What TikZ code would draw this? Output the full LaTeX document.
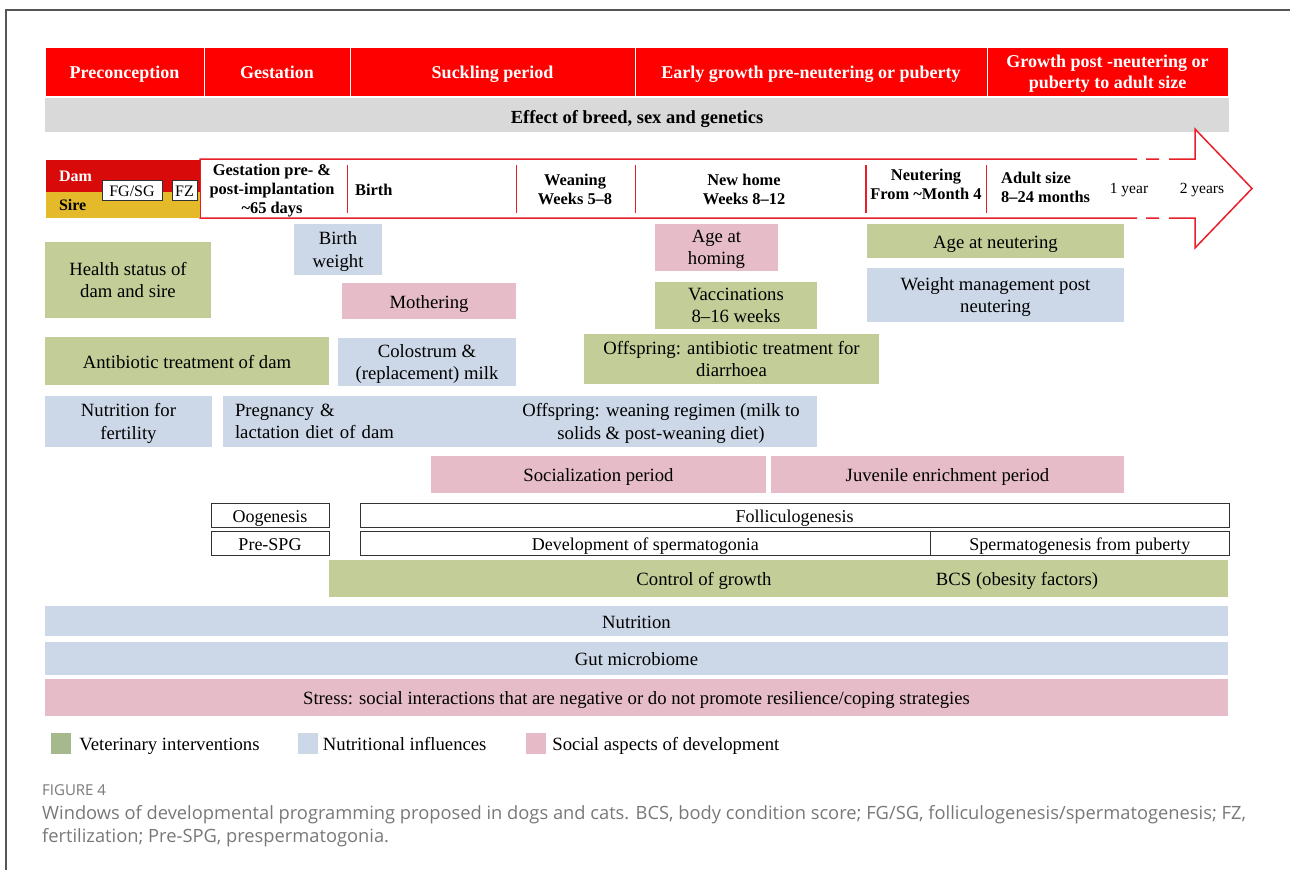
\documentclass[tikz,border=0pt]{standalone}
\usepackage{fontspec}
\setmainfont{Liberation Serif}
\newfontfamily\capfont{Open Sans}
\usepackage{xcolor}
\usepackage{tikz}
\usetikzlibrary{positioning}
\definecolor{hdred}{RGB}{255,0,0}
\definecolor{damred}{RGB}{217,10,10}
\definecolor{siregold}{RGB}{228,185,42}
\definecolor{bargray}{RGB}{217,217,217}
\definecolor{arrred}{RGB}{232,30,40}
\definecolor{vetgreen}{RGB}{194,205,152}
\definecolor{nutblue}{RGB}{204,216,232}
\definecolor{socpink}{RGB}{229,188,200}
\definecolor{leggreen}{RGB}{165,185,140}
\definecolor{legpink}{RGB}{230,186,198}
\definecolor{boxgray}{RGB}{50,50,50}
\definecolor{capgray}{RGB}{120,120,120}
\definecolor{framegray}{RGB}{85,85,85}
\tikzset{cell/.style={rectangle,inner sep=0pt,align=center,text depth=0pt,font=\fontsize{18.7}{22.4}\selectfont},
	one/.style={text height=16pt,text depth=2pt},
	vet/.style={cell,fill=vetgreen},
	nut/.style={cell,fill=nutblue},
	soc/.style={cell,fill=socpink},
	wbox/.style={cell,one,draw=boxgray,line width=1pt,fill=white,font=\fontsize{18}{21}\selectfont},
	hdbox/.style={rectangle,inner sep=0pt,align=center,fill=hdred,draw=white,line width=0.8pt,
		text=white,font=\bfseries\fontsize{18}{21}\selectfont},
	hd/.style={hdbox,text height=15pt,text depth=1pt},
	tl/.style={inner sep=0pt,align=center,font=\bfseries\fontsize{16.4}{19}\selectfont},
	arr/.style={draw=arrred,line width=1.5pt},
	key/.style={rectangle,inner sep=0pt,minimum width=20pt,minimum height=21pt}}

\begin{document}
\begin{tikzpicture}[x=1pt,y=-1pt]
\useasboundingbox (0,0) rectangle (1290,870);
\draw[framegray,line width=1.5pt] (6,870) -- (6,10) -- (1290,10);
\node[hd,minimum width=159pt,minimum height=49pt] (pre) at (124.5,71.5) {Preconception};
\node[hd,minimum width=146pt,minimum height=49pt] (gest) at (277,71.5) {Gestation};
\node[hd,minimum width=285pt,minimum height=49pt] (suck) at (492.5,71.5) {Suckling period};
\node[hd,minimum width=352pt,minimum height=49pt] (early) at (811,71.5) {Early growth pre-neutering or puberty};
\node[hdbox,minimum width=241pt,minimum height=49pt] (post) at (1107.5,71.5) {};
\node[hdbox,fill=none,draw=none] (posttxt) at (1107.5,74) {Growth post -neutering or\\puberty to adult size};
\node[cell,fill=bargray,minimum width=1184pt,minimum height=34pt,text height=17.5pt,text depth=1pt,
  font=\bfseries\fontsize{18.5}{22}\selectfont] (breed) at (637,115) {Effect of breed, sex and genetics};
\draw[arr] (1137,159) -- (200,159) -- (200,218) -- (1137,218)
  (1146,159) -- (1159,159) (1146,218) -- (1159,218)
  (1169,159) -- (1195,159) -- (1195,129) -- (1252,188.5) -- (1195,248) -- (1195,218) -- (1169,218);
\draw[arr] (347.5,165) -- (347.5,213) (516.5,165) -- (516.5,213) (635.7,165) -- (635.7,213)
  (866,165) -- (866,213) (986.5,165) -- (986.5,213);
\node[rectangle,fill=damred,minimum width=154pt,minimum height=32pt,inner xsep=13pt,inner ysep=0pt,
  text width=128pt,align=left,text=white,font=\bfseries\fontsize{16}{19}\selectfont] (dam) at (123,176) {Dam};
\node[rectangle,fill=siregold,minimum width=154pt,minimum height=26.5pt,inner xsep=13pt,inner ysep=0pt,
  text width=128pt,align=left,font=\bfseries\fontsize{16}{19}\selectfont] (sire) at (123,204.75) {Sire};
\node[wbox,minimum width=60pt,minimum height=20pt,text height=13pt,text depth=1pt,font=\fontsize{16}{19}\selectfont] (fgsg) at (132,190) {FG/SG};
\node[wbox,minimum width=25pt,minimum height=20pt,text height=13pt,text depth=1pt,font=\fontsize{16}{19}\selectfont] (fz) at (184.5,190) {FZ};
\node[tl] (impl) at (272,190.5) {Gestation pre- \&\\post-implantation\\\textasciitilde65 days};
\node[tl,anchor=west] (birth) at (355,190) {Birth};
\node[tl] (wean) at (575,189) {Weaning\\Weeks 5--8};
\node[tl] (home) at (744,189) {New home\\Weeks 8--12};
\node[tl] (neut) at (926,184) {Neutering\\From \textasciitilde Month 4};
\node[tl,anchor=west,align=left] (adult) at (1001,187.5) {Adult size\\8--24 months};
\node[tl,font=\fontsize{15.5}{18}\selectfont] (yr1) at (1129,190) {1 year};
\node[tl,font=\fontsize{15.5}{18}\selectfont] (yr2) at (1202,190) {2 years};
\node[vet,minimum width=166pt,minimum height=76pt] (health) at (128,280) {Health status of\\dam and sire};
\node[nut,minimum width=88pt,minimum height=51pt] (bw) at (338,249.5) {Birth\\weight};
\node[soc,one,minimum width=174pt,minimum height=36pt] (moth) at (429,301) {Mothering};
\node[vet,one,minimum width=284pt,minimum height=48pt] (abdam) at (187,361) {Antibiotic treatment of dam};
\node[nut,minimum width=178pt,minimum height=48pt] (colo) at (427,362) {Colostrum \&\\(replacement) milk};
\node[nut,minimum width=167pt,minimum height=51pt] (fert) at (128.5,421.5) {Nutrition for\\fertility};
\node[nut,minimum width=282pt,minimum height=51pt,text width=258pt,align=left,inner xsep=12pt,
  text depth=22.4pt] (preg) at (364,421.5) {Pregnancy \&\\lactation diet of dam};
\node[nut,minimum width=312pt,minimum height=51pt] (regim) at (661,421.5) {Offspring: weaning regimen (milk to\\solids \& post-weaning diet)};
\node[soc,minimum width=123pt,minimum height=47pt] (ahome) at (716.5,247.5) {Age at\\homing};
\node[vet,minimum width=162pt,minimum height=47pt] (vacc) at (736,305.5) {Vaccinations\\8--16 weeks};
\node[vet,one,minimum width=257pt,minimum height=34pt] (aneut) at (995.5,241) {Age at neutering};
\node[nut,minimum width=257pt,minimum height=54pt] (wman) at (995.5,295) {Weight management post\\neutering};
\node[vet,minimum width=295pt,minimum height=50pt] (aboff) at (731.5,359) {Offspring: antibiotic treatment for\\diarrhoea};
\node[soc,one,minimum width=335pt,minimum height=37pt] (social) at (598.5,474.5) {Socialization period};
\node[soc,one,minimum width=353pt,minimum height=37pt] (juv) at (947.5,474.5) {Juvenile enrichment period};
\node[wbox,minimum width=118pt,minimum height=24pt] (oog) at (270,515) {Oogenesis};
\node[wbox,minimum width=118pt,minimum height=24pt] (pspg) at (270,543) {Pre-SPG};
\node[wbox,minimum width=869pt,minimum height=24pt] (foll) at (794.5,515) {Folliculogenesis};
\node[wbox,minimum width=570.5pt,minimum height=24pt] (devsp) at (645.25,543) {Development of spermatogonia};
\node[wbox,minimum width=298.5pt,minimum height=24pt] (sperm) at (1079.75,543) {Spermatogenesis from puberty};
\node[vet,minimum width=899pt,minimum height=37pt] (grow) at (778.5,578.5) {};
\node[cell,one] (ctrl) at (704,578.5) {Control of growth};
\node[cell,one] (bcs) at (1017,578.5) {BCS (obesity factors)};
\node[nut,one,minimum width=1183pt,minimum height=30pt] (nutr) at (636.5,621) {Nutrition};
\node[nut,one,minimum width=1183pt,minimum height=33pt] (gut) at (636.5,658.5) {Gut microbiome};
\node[soc,one,minimum width=1183pt,minimum height=37pt] (stress) at (636.5,697.5) {Stress: social interactions that are negative or do not promote resilience/coping strategies};
\node[key,fill=leggreen] (kv) at (61,743.5) {};
\node[cell,one,right=8pt of kv] (kvt) {Veterinary interventions};
\node[key,fill=nutblue] (kn) at (307.5,743.5) {};
\node[cell,one,right=5pt of kn] (knt) {Nutritional influences};
\node[key,fill=legpink] (ks) at (536,743.5) {};
\node[cell,one,right=6pt of ks] (kst) {Social aspects of development};
\node[anchor=west,inner sep=0pt,text=capgray,font=\capfont\fontsize{15}{17}\selectfont] (fig) at (42,790) {FIGURE 4};
\node[anchor=west,inner sep=0pt,text=capgray,font=\capfont\fontsize{18.3}{21}\selectfont] (cap1) at (42,815) {Windows of developmental programming proposed in dogs and cats. BCS, body condition score; FG/SG, folliculogenesis/spermatogenesis; FZ,};
\node[anchor=west,inner sep=0pt,text=capgray,font=\capfont\fontsize{18.3}{21}\selectfont] (cap2) at (42,838) {fertilization; Pre-SPG, prespermatogonia.};
\end{tikzpicture}
\end{document}
